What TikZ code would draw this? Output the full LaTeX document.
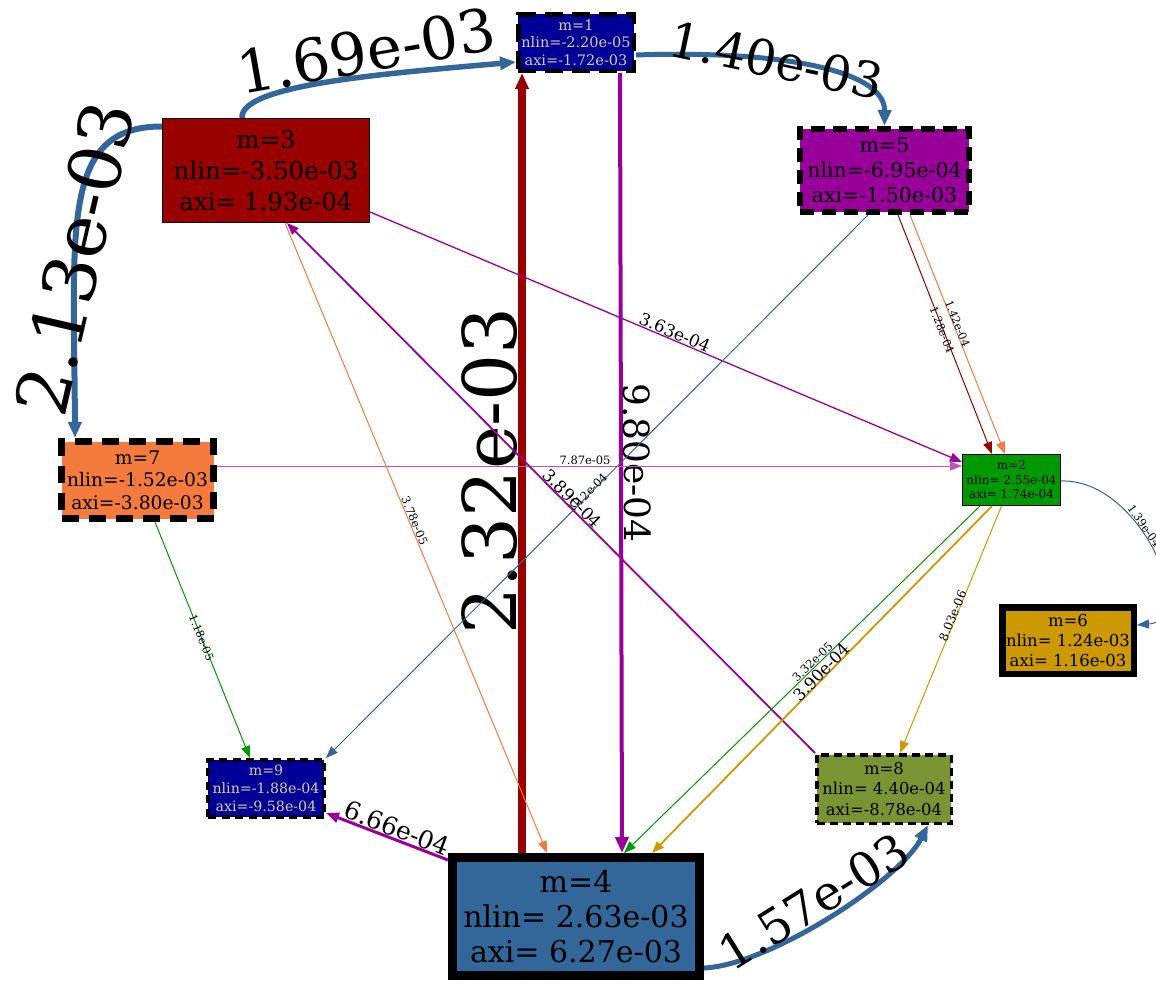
\documentclass[tikz,border=0pt]{standalone}
\usepackage{fontspec}
\setmainfont{DejaVu Serif}
\usetikzlibrary{arrows.meta}

\definecolor{steel}{HTML}{336699}
\definecolor{wine}{HTML}{990000}
\definecolor{plum}{HTML}{990099}
\definecolor{coral}{HTML}{F47A3D}
\definecolor{leaf}{HTML}{009900}
\definecolor{ochre}{HTML}{CC9900}
\definecolor{navy}{HTML}{000099}
\definecolor{moss}{HTML}{7A9433}
\definecolor{sand}{HTML}{D8CCA0}
\definecolor{lilac}{HTML}{BB55BB}

\newcommand{\msize}[2]{\fontsize{#1}{#2}\selectfont}

\tikzset{
  mstate/.style={rectangle, draw=black, align=center, inner sep=0pt, text=black},
  dstate/.style 2 args={mstate, dash pattern=on #1 off #2},
  wire/.style={line width=1pt, -{Triangle[length=12pt,width=9pt]}},
  heavy/.style={line width=#1, -{Triangle[length=16pt,width=13pt]}},
  elab/.style={font=\msize{#1}{#1}, inner sep=0.5pt, text=black},
}

\begin{document}
\begin{tikzpicture}[x=1pt,y=-1pt]
  \clip (0,0) rectangle (1156,983);
  \fill[white] (0,0) rectangle (1156,983);

  % states
  \node[dstate={18pt}{9pt}, line width=4.5pt, fill=navy, text=sand, minimum width=115.5pt, minimum height=56.5pt, font=\msize{14.5}{17.5}] (m1) at (576,42.5) {m=1\\nlin=-2.20e-05\\axi=-1.72e-03};
  \node[mstate, line width=1pt, fill=wine, minimum width=207pt, minimum height=104pt, font=\msize{24.5}{31}] (m3) at (266,170.5) {m=3\\nlin=-3.50e-03\\axi= 1.93e-04};
  \node[dstate={14pt}{8pt}, line width=6pt, fill=plum, minimum width=169pt, minimum height=83pt, font=\msize{20.5}{25}] (m5) at (884.5,170.5) {m=5\\nlin=-6.95e-04\\axi=-1.50e-03};
  \node[dstate={17pt}{10pt}, line width=7pt, fill=coral, minimum width=152pt, minimum height=77pt, font=\msize{18.7}{22.5}] (m7) at (137.5,480) {m=7\\nlin=-1.52e-03\\axi=-3.80e-03};
  \node[mstate, line width=1pt, fill=leaf, minimum width=98pt, minimum height=51pt, font=\msize{12}{14.5}] (m2) at (1011.5,480) {m=2\\nlin= 2.55e-04\\axi= 1.74e-04};
  \node[mstate, line width=6.5pt, fill=ochre, minimum width=131.5pt, minimum height=66.5pt, font=\msize{16.5}{20}] (m6) at (1068,640.5) {m=6\\nlin= 1.24e-03\\axi= 1.16e-03};
  \node[dstate={8pt}{5.5pt}, line width=4pt, fill=navy, text=sand, minimum width=116pt, minimum height=57pt, font=\msize{14.2}{18}] (m9) at (266,788.5) {m=9\\nlin=-1.88e-04\\axi=-9.58e-04};
  \node[dstate={8pt}{5pt}, line width=3.5pt, fill=moss, minimum width=134.5pt, minimum height=68.5pt, font=\msize{16.4}{20.5}] (m8) at (884,789) {m=8\\nlin= 4.40e-04\\axi=-8.78e-04};
  \node[mstate, line width=9pt, fill=steel, minimum width=247pt, minimum height=118pt, font=\msize{30}{35}] (m4) at (576,916.5) {m=4\\nlin= 2.63e-03\\axi= 6.27e-03};

  % heavy flows
  \draw[heavy=5.5pt, steel] ([xshift=-24pt]m3.north) .. controls (240,85) and (380,74) .. ([yshift=-19.5pt]m1.west)
    node[elab=59, pos=0.63, rotate=10, anchor=south] {1.69e-03};
  \draw[heavy=5pt, steel] ([yshift=-12.5pt]m1.east) .. controls (780,50) and (885,70) .. (m5.north)
    node[elab=49, pos=0.37, rotate=-12] {1.40e-03};
  \draw[heavy=6pt, steel] ([yshift=44pt]m3.west) .. controls (60,126) and (74,230) .. ([xshift=-62.5pt]m7.north)
    node[elab=72, pos=0.65, rotate=77] {2.13e-03};
  \draw[heavy=7.5pt, wine] ([xshift=-54pt]m4.north) -- ([xshift=-54pt]m1.south)
    node[elab=74, pos=0.49, sloped, above=0pt] {2.32e-03};
  \draw[heavy=4pt, plum] ([xshift=44pt]m1.south) -- ([xshift=46pt]m4.north)
    node[elab=36, pos=0.5, sloped, above=0pt] {9.80e-04};
  \draw[heavy=5pt, steel] ([yshift=-51.5pt]m4.east) .. controls (770,965) and (900,880) .. ([xshift=44pt]m8.south)
    node[elab=48, pos=0.48, rotate=32, anchor=south] {1.57e-03};
  \draw[plum, line width=3pt, -{Triangle[length=13pt,width=10pt]}] ([yshift=56.5pt]m4.west) -- ([yshift=-24.5pt]m9.east)
    node[elab=25, pos=0.45, sloped, above=0pt] {6.66e-04};

  % thin flows
  \draw[wire, plum, line width=1.3pt] ([yshift=-41.5pt]m3.east) -- ([yshift=18pt]m2.west)
    node[elab=17, pos=0.51, sloped, above=0pt] {3.63e-04};
  \draw[wire, wine] ([xshift=13.5pt]m5.south) -- ([xshift=-19.5pt]m2.north)
    node[elab=11, pos=0.48, sloped, below=-4pt] {1.28e-04};
  \draw[wire, coral] ([xshift=25.5pt]m5.south) -- ([xshift=-6.5pt]m2.north)
    node[elab=11, pos=0.46, sloped, above=-1pt] {1.42e-04};
  \draw[wire, lilac] ([yshift=14pt]m7.east) -- ([yshift=14pt]m2.west)
    node[elab=11.5, pos=0.494, above=0pt] {7.87e-05};
  \draw[wire, steel] ([xshift=-16.5pt]m5.south) -- (m9.north east)
    node[elab=11.5, pos=0.515, sloped, above=-3pt] {1.12e-04};
  \draw[wire, plum, line width=1.8pt] (m8.north west) -- ([xshift=21pt]m3.south)
    node[elab=17, pos=0.47, sloped, above=0pt] {3.89e-04};
  \draw[wire, coral] ([xshift=19pt]m3.south) -- ([xshift=-29pt]m4.north)
    node[elab=11.5, pos=0.476, sloped, above=0pt] {3.78e-05};
  \draw[wire, leaf] ([xshift=17.5pt]m7.south) -- ([xshift=-16pt]m9.north)
    node[elab=11, pos=0.49, sloped] {1.18e-05};
  \draw[wire, leaf] ([xshift=-31.5pt]m2.south) -- ([xshift=48pt]m4.north)
    node[elab=11.5, pos=0.46, sloped, above=0pt] {3.32e-05};
  \draw[wire, ochre, line width=1.8pt] ([xshift=-19.5pt]m2.south) -- ([xshift=76pt]m4.north)
    node[elab=16.5, pos=0.49, sloped, above=-2pt] {3.90e-04};
  \draw[wire, ochre] ([xshift=-10pt]m2.south) -- ([xshift=16pt]m8.north)
    node[elab=12, pos=0.45, sloped, above=-2pt] {8.03e-06};
  \draw[wire, steel] ([yshift=-1pt]m2.east) .. controls (1140,478) and (1200,620) .. ([yshift=15.5pt]m6.east)
    node[elab=11, pos=0.4, sloped, above=0pt] {1.39e-04};
\end{tikzpicture}
\end{document}
